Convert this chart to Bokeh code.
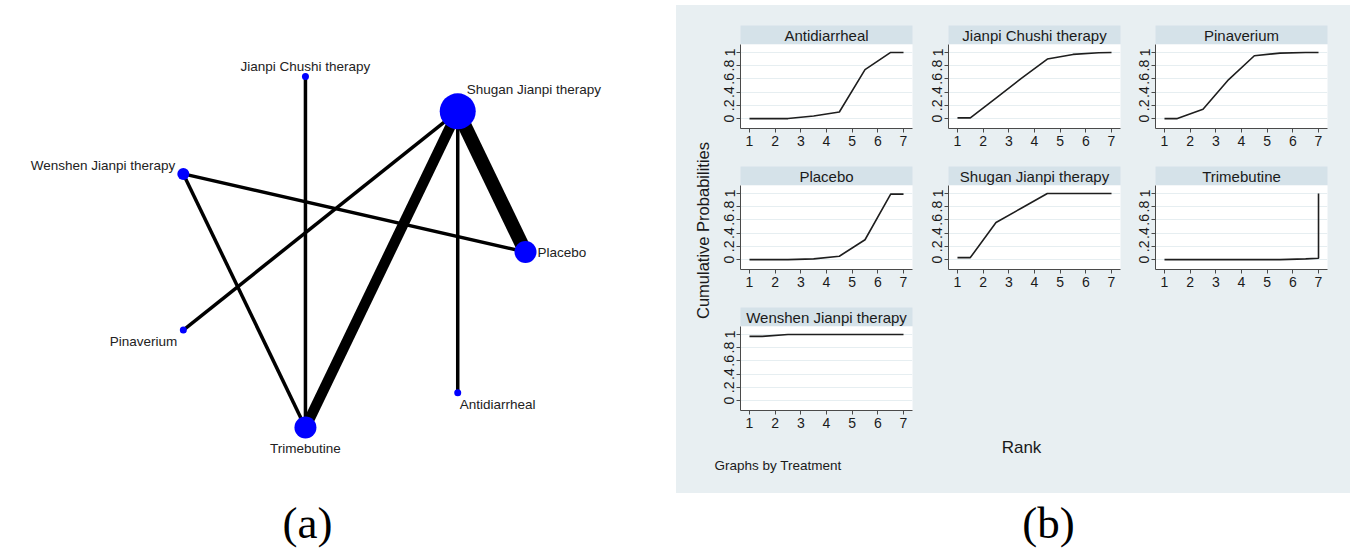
import math
from bokeh.plotting import figure
from bokeh.layouts import row, column
from bokeh.models import Spacer, ColumnDataSource, FixedTicker, Range1d
from bokeh.embed import file_html
from bokeh.resources import INLINE
from bokeh.core.properties import value

# ---------------- data: (a) network ----------------
nodes = ["Placebo", "Shugan Jianpi therapy", "Jianpi Chushi therapy",
         "Wenshen Jianpi therapy", "Pinaverium", "Trimebutine", "Antidiarrheal"]
node_size = [22, 36, 7, 12, 7, 22, 7]
edge_from = ["Shugan Jianpi therapy", "Shugan Jianpi therapy", "Shugan Jianpi therapy",
             "Shugan Jianpi therapy", "Jianpi Chushi therapy", "Wenshen Jianpi therapy",
             "Wenshen Jianpi therapy"]
edge_to = ["Placebo", "Trimebutine", "Pinaverium", "Antidiarrheal",
           "Trimebutine", "Placebo", "Trimebutine"]
edge_studies = [4, 3, 1, 1, 1, 1, 1]

# ---------------- data: (b) cumulative ranking ----------------
rank_x = [1, 1.5, 2.5, 3.5, 4.5, 5.5, 6.5, 7, 7]
panel_names = ["Antidiarrheal", "Jianpi Chushi therapy", "Pinaverium", "Placebo",
               "Shugan Jianpi therapy", "Trimebutine", "Wenshen Jianpi therapy"]
cum_antidiarrheal = [0, 0, 0, 0.04, 0.10, 0.74, 1.0, 1.0, 1.0]
cum_jianpi_chushi = [0.01, 0.01, 0.31, 0.61, 0.90, 0.97, 0.995, 1.0, 1.0]
cum_pinaverium = [0, 0, 0.14, 0.59, 0.95, 0.99, 1.0, 1.0, 1.0]
cum_placebo = [0, 0, 0, 0.01, 0.05, 0.30, 0.99, 0.99, 0.99]
cum_shugan_jianpi = [0.03, 0.03, 0.56, 0.78, 1.0, 1.0, 1.0, 1.0, 1.0]
cum_trimebutine = [0, 0, 0, 0, 0, 0, 0.01, 0.02, 1.0]
cum_wenshen_jianpi = [0.97, 0.97, 1.0, 1.0, 1.0, 1.0, 1.0, 1.0, 1.0]
y_ticks = [0, 0.2, 0.4, 0.6, 0.8, 1]
y_tick_labels = ["0", ".2", ".4", ".6", ".8", "1"]
x_ticks = [1, 2, 3, 4, 5, 6, 7]

series = [cum_antidiarrheal, cum_jianpi_chushi, cum_pinaverium, cum_placebo,
          cum_shugan_jianpi, cum_trimebutine, cum_wenshen_jianpi]

# ---------------- style ----------------
FONT = "Liberation Sans"
SERIF = "Liberation Serif"
GRAY = "#E8EFF2"
HEAD = "#D5E2E9"
BLUE = "#0000FF"

# label placement (screen offsets, style only)
label_dx = [12, 9, 0, -8, -6, 0, 2]
label_dy = [0, -22, -10, -8, 11, 21, 12]
label_align = ["left", "left", "center", "right", "right", "center", "left"]


def kw_common(w, h):
    return dict(width=w, height=h, toolbar_location=None, output_backend="svg")


# ================= panel (a) =================
W_A, H_A = 676, 552
pa = figure(x_range=Range1d(0, W_A), y_range=Range1d(0, H_A), min_border=0,
            outline_line_color=None, x_axis_location=None, y_axis_location=None,
            background_fill_color="white", border_fill_color="white", **kw_common(W_A, H_A))
pa.grid.visible = False

cx, cy, R = 345, 300.5, 180
angles = [2 * math.pi * k / len(nodes) for k in range(len(nodes))]
nx = [cx + R * math.cos(a) for a in angles]
ny = [cy + R * math.sin(a) for a in angles]
pos = {n: (x, y) for n, x, y in zip(nodes, nx, ny)}

edge_src = ColumnDataSource(dict(
    x0=[pos[a][0] for a in edge_from], y0=[pos[a][1] for a in edge_from],
    x1=[pos[b][0] for b in edge_to], y1=[pos[b][1] for b in edge_to],
    w=[3.5 * s for s in edge_studies]))
pa.segment("x0", "y0", "x1", "y1", source=edge_src, line_width="w", line_color="black")

node_src = ColumnDataSource(dict(x=nx, y=ny, size=node_size, name=nodes,
                                 dx=label_dx, dy=label_dy, align=label_align))
pa.scatter("x", "y", size="size", source=node_src, fill_color=BLUE, line_color=None)
pa.text("x", "y", text="name", x_offset="dx", y_offset="dy", text_align="align",
        text_baseline="middle", source=node_src, text_font=value(FONT),
        text_font_size="13.5px", text_color="#222222")
pa.text(x=[307], y=[30], text=["(a)"], text_align="center", text_baseline="middle",
        text_font=value(SERIF), text_font_size="45px", text_color="black")


# ================= panel (b) =================
def gray_fig(w, h, bg=GRAY):
    f = figure(x_range=Range1d(0, w), y_range=Range1d(0, h), min_border=0,
               outline_line_color=None, x_axis_location=None, y_axis_location=None,
               background_fill_color=bg, border_fill_color=bg, **kw_common(w, h))
    f.grid.visible = False
    return f


FRAME_W, FRAME_H, LEFT = 172, 84, 27


def cell(name, ys, w, bb):
    rb = w - LEFT - FRAME_W
    hd = figure(x_range=Range1d(0, 1), y_range=Range1d(0, 1),
                min_border_left=LEFT, min_border_right=rb, min_border_top=0, min_border_bottom=0,
                outline_line_color=None, x_axis_location=None, y_axis_location=None,
                background_fill_color=HEAD, border_fill_color=GRAY, **kw_common(w, 19))
    hd.grid.visible = False
    hd.text(x=[0.5], y=[0.45], text=[name], text_align="center", text_baseline="middle",
            text_font=value(FONT), text_font_size="15px", text_color="#1a1a1a")

    p = figure(x_range=Range1d(0.65, 7.35), y_range=Range1d(-0.15, 1.12),
               min_border_left=LEFT, min_border_right=rb, min_border_top=0, min_border_bottom=bb,
               outline_line_color=None, background_fill_color="white", border_fill_color=GRAY,
               **kw_common(w, FRAME_H + bb))
    p.line(rank_x, ys, line_color="#1e1e1e", line_width=1.6)
    p.xgrid.visible = False
    p.ygrid.grid_line_color = "#E6EEF1"
    p.ygrid.grid_line_width = 1.2
    p.ygrid.ticker = FixedTicker(ticks=y_ticks)
    p.xaxis.ticker = FixedTicker(ticks=x_ticks)
    p.yaxis.ticker = FixedTicker(ticks=y_ticks)
    p.yaxis.major_label_overrides = {t: l for t, l in zip(y_ticks, y_tick_labels)}
    p.yaxis.major_label_orientation = "vertical"
    for ax in (p.xaxis, p.yaxis):
        ax.axis_line_color = "#4a4a4a"
        ax.major_tick_line_color = "#4a4a4a"
        ax.major_tick_out = 4
        ax.major_tick_in = 0
        ax.minor_tick_line_color = None
        ax.major_label_text_font = FONT
        ax.major_label_text_font_size = "14px"
        ax.major_label_text_color = "#1a1a1a"
    p.xaxis.major_label_standoff = 3
    p.yaxis.major_label_standoff = 2
    return column(hd, p, styles={"background-color": GRAY})


RIGHT_W = 637
col_w = [208, 207, 222]
cells = [cell(n, s, col_w[i % 3], 38 if i < 6 else 26) for i, (n, s) in enumerate(zip(panel_names, series))]

row1 = row(cells[0], cells[1], cells[2], styles={"background-color": GRAY})
row2 = row(cells[3], cells[4], cells[5], styles={"background-color": GRAY})
row3 = row(cells[6], Spacer(width=RIGHT_W - col_w[0], height=129, styles={"background-color": GRAY}),
           styles={"background-color": GRAY})

bottom = gray_fig(RIGHT_W, 57)
bottom.text(x=[308], y=[46], text=["Rank"], text_align="center", text_baseline="middle",
            text_font=value(FONT), text_font_size="17px", text_color="#1a1a1a")
bottom.text(x=[1], y=[28], text=["Graphs by Treatment"], text_align="left", text_baseline="middle",
            text_font=value(FONT), text_font_size="13.5px", text_color="#1a1a1a")

right = column(Spacer(width=RIGHT_W, height=20, styles={"background-color": GRAY}),
               row1, row2, row3, bottom, styles={"background-color": GRAY})

ytitle = gray_fig(37, 488)
ytitle.text(x=[26], y=[263], text=["Cumulative Probabilities"], angle=math.pi / 2,
            text_align="center", text_baseline="middle", text_font=value(FONT),
            text_font_size="16.5px", text_color="#1a1a1a")

panel_b_gray = row(ytitle, right, styles={"background-color": GRAY})

blab = gray_fig(674, 59, bg="white")
blab.text(x=[372], y=[30], text=["(b)"], text_align="center", text_baseline="middle",
          text_font=value(SERIF), text_font_size="45px", text_color="black")

panel_b = column(Spacer(width=674, height=5), panel_b_gray, blab)
layout = row(pa, panel_b)

open("out.html", "w").write(file_html(layout, INLINE))
